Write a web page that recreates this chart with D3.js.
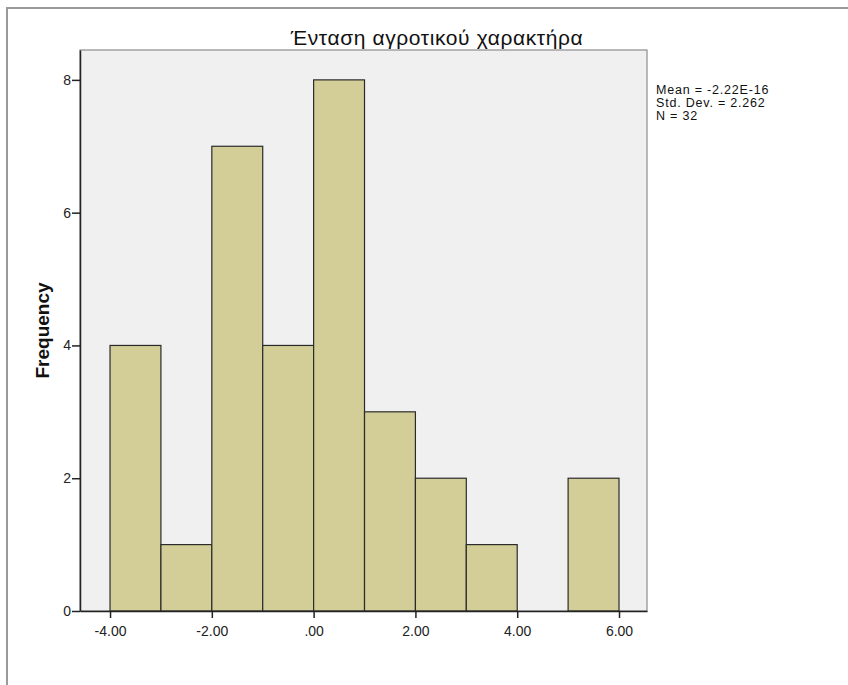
<!DOCTYPE html>
<html><head><meta charset="utf-8">
<script src="https://cdn.jsdelivr.net/npm/d3@7"></script>
<style>body{margin:0;background:#fff}svg{display:block}</style>
</head><body>
<script>
const binStarts = [-4, -3, -2, -1, 0, 1, 2, 3, 4, 5];
const binWidth = 1;
const counts = [4, 1, 7, 4, 8, 3, 2, 1, 0, 2];
const xTicks = [-4, -2, 0, 2, 4, 6];
const xTickLabels = ["-4.00", "-2.00", ".00", "2.00", "4.00", "6.00"];
const yTicks = [0, 2, 4, 6, 8];
const title = "Ένταση αγροτικού χαρακτήρα";
const yLabel = "Frequency";
const stats = ["Mean = -2.22E-16", "Std. Dev. = 2.262", "N = 32"];

const W = 848, H = 685;
const svg = d3.select("body").append("svg").attr("width", W).attr("height", H);
const font = "'Liberation Sans', Arial, sans-serif";

// outer frame
svg.append("path").attr("d", `M7,${H} V8 H${W}`).attr("fill", "none").attr("stroke", "#9a9a9a").attr("stroke-width", 2);

const L = 80, R = 647, T = 50, B = 611;
const x = d3.scaleLinear().domain([-4.59, 6.55]).range([L, R]);
const y = d3.scaleLinear().domain([0, 8.45]).range([B, T]);

svg.append("rect").attr("x", L).attr("y", T).attr("width", R - L).attr("height", B - T)
  .attr("fill", "#f0f0f0").attr("stroke", "#8c8c8c").attr("stroke-width", 1.2);

svg.append("g").selectAll("rect").data(binStarts.map((s, i) => ({s, c: counts[i]})).filter(d => d.c > 0)).join("rect")
  .attr("x", d => x(d.s)).attr("width", d => x(d.s + binWidth) - x(d.s))
  .attr("y", d => y(d.c)).attr("height", d => y(0) - y(d.c))
  .attr("fill", "#d3ce97").attr("stroke", "#2b2b2b").attr("stroke-width", 1.2);

// axes
const xa = svg.append("g").attr("transform", `translate(0,${B})`)
  .call(d3.axisBottom(x).tickValues(xTicks).tickSize(7).tickSizeOuter(0)
    .tickFormat((d, i) => xTickLabels[i]));
xa.select(".domain").attr("stroke", "#222").attr("stroke-width", 1.5);
xa.selectAll(".tick line").attr("stroke", "#222").attr("stroke-width", 1.5);
xa.selectAll("text").attr("font-family", font).attr("font-size", 14).attr("fill", "#222").attr("y", 13).attr("dy", "0.85em");

const ya = svg.append("g").attr("transform", `translate(${L},0)`)
  .call(d3.axisLeft(y).tickValues(yTicks).tickSize(8).tickSizeOuter(0).tickFormat(d3.format("d")));
ya.select(".domain").attr("stroke", "#222").attr("stroke-width", 1.5);
ya.selectAll(".tick line").attr("stroke", "#222").attr("stroke-width", 1.5);
ya.selectAll("text").attr("font-family", font).attr("font-size", 14).attr("fill", "#222").attr("x", -9);

svg.append("text").attr("x", 437).attr("y", 45).attr("text-anchor", "middle")
  .attr("font-family", font).attr("font-size", 21).attr("letter-spacing", 0.6).attr("fill", "#111").text(title);

svg.append("text").attr("transform", `translate(49,${(T + B) / 2}) rotate(-90)`).attr("text-anchor", "middle")
  .attr("font-family", font).attr("font-size", 19).attr("font-weight", "bold").attr("fill", "#111").text(yLabel);

svg.append("g").selectAll("text").data(stats).join("text")
  .attr("x", 656).attr("y", (d, i) => 94 + i * 13)
  .attr("font-family", font).attr("font-size", 12.5).attr("letter-spacing", 0.8).attr("fill", "#111").text(d => d);
</script>
</body></html>
